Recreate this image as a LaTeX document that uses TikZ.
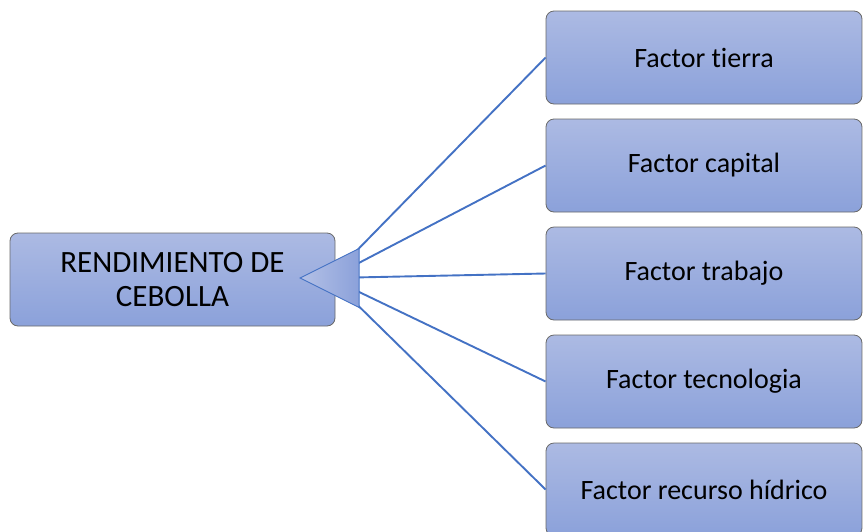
\documentclass[tikz,border=0pt]{standalone}
\usepackage{fontspec}
\setmainfont[Ligatures=NoCommon]{Carlito}
\usepackage{tikz}
\usetikzlibrary{shapes.geometric}
\definecolor{boxtop}{RGB}{172,186,227}
\definecolor{boxbottom}{RGB}{139,161,218}
\definecolor{linkblue}{RGB}{68,114,196}
\definecolor{framegray}{RGB}{105,105,105}
\tikzstyle{block} = [rectangle, draw=framegray, line width=0.8pt, top color=boxtop, bottom color=boxbottom, rounded corners=8pt, minimum width=316pt, minimum height=93pt, align=center, font=\fontsize{28}{34}\selectfont]
\tikzstyle{source} = [block, minimum width=325pt, font=\fontsize{31}{33.5}\selectfont]
\tikzstyle{pointer} = [isosceles triangle, isosceles triangle stretches, shape border rotate=180, draw=linkblue, line width=0.9pt, left color=boxtop!90!white, right color=boxbottom, minimum width=59pt, minimum height=59pt, inner sep=0pt]
\tikzstyle{line} = [draw=linkblue, line width=1.9pt]

\begin{document}
\begin{tikzpicture}[x=1pt, y=1pt, node distance = 108pt]
	\useasboundingbox (0,0) rectangle (863,-531);
	\node[source] (yield) at (172.5,-279.5) {RENDIMIENTO DE\\CEBOLLA};
	\coordinate (hub) at (330,-278);
	\node[block] (land) at (704,-57.5) {Factor tierra};
	\node[block,below of=land] (capital) {Factor capital};
	\node[block,below of=capital] (labour) {Factor trabajo};
	\node[block,below of=labour] (technology) {Factor tecnologia};
	\node[block,below of=technology] (water) {Factor recurso hídrico};

	\path[line] (hub) -- (land.west);
	\path[line] (hub) -- (capital.west);
	\path[line] (hub) -- (labour.west);
	\path[line] (hub) -- (technology.west);
	\path[line] (hub) -- (water.west);
	\node[pointer,anchor=apex] (arrowhead) at (299,-278) {};
\end{tikzpicture}
\end{document}
